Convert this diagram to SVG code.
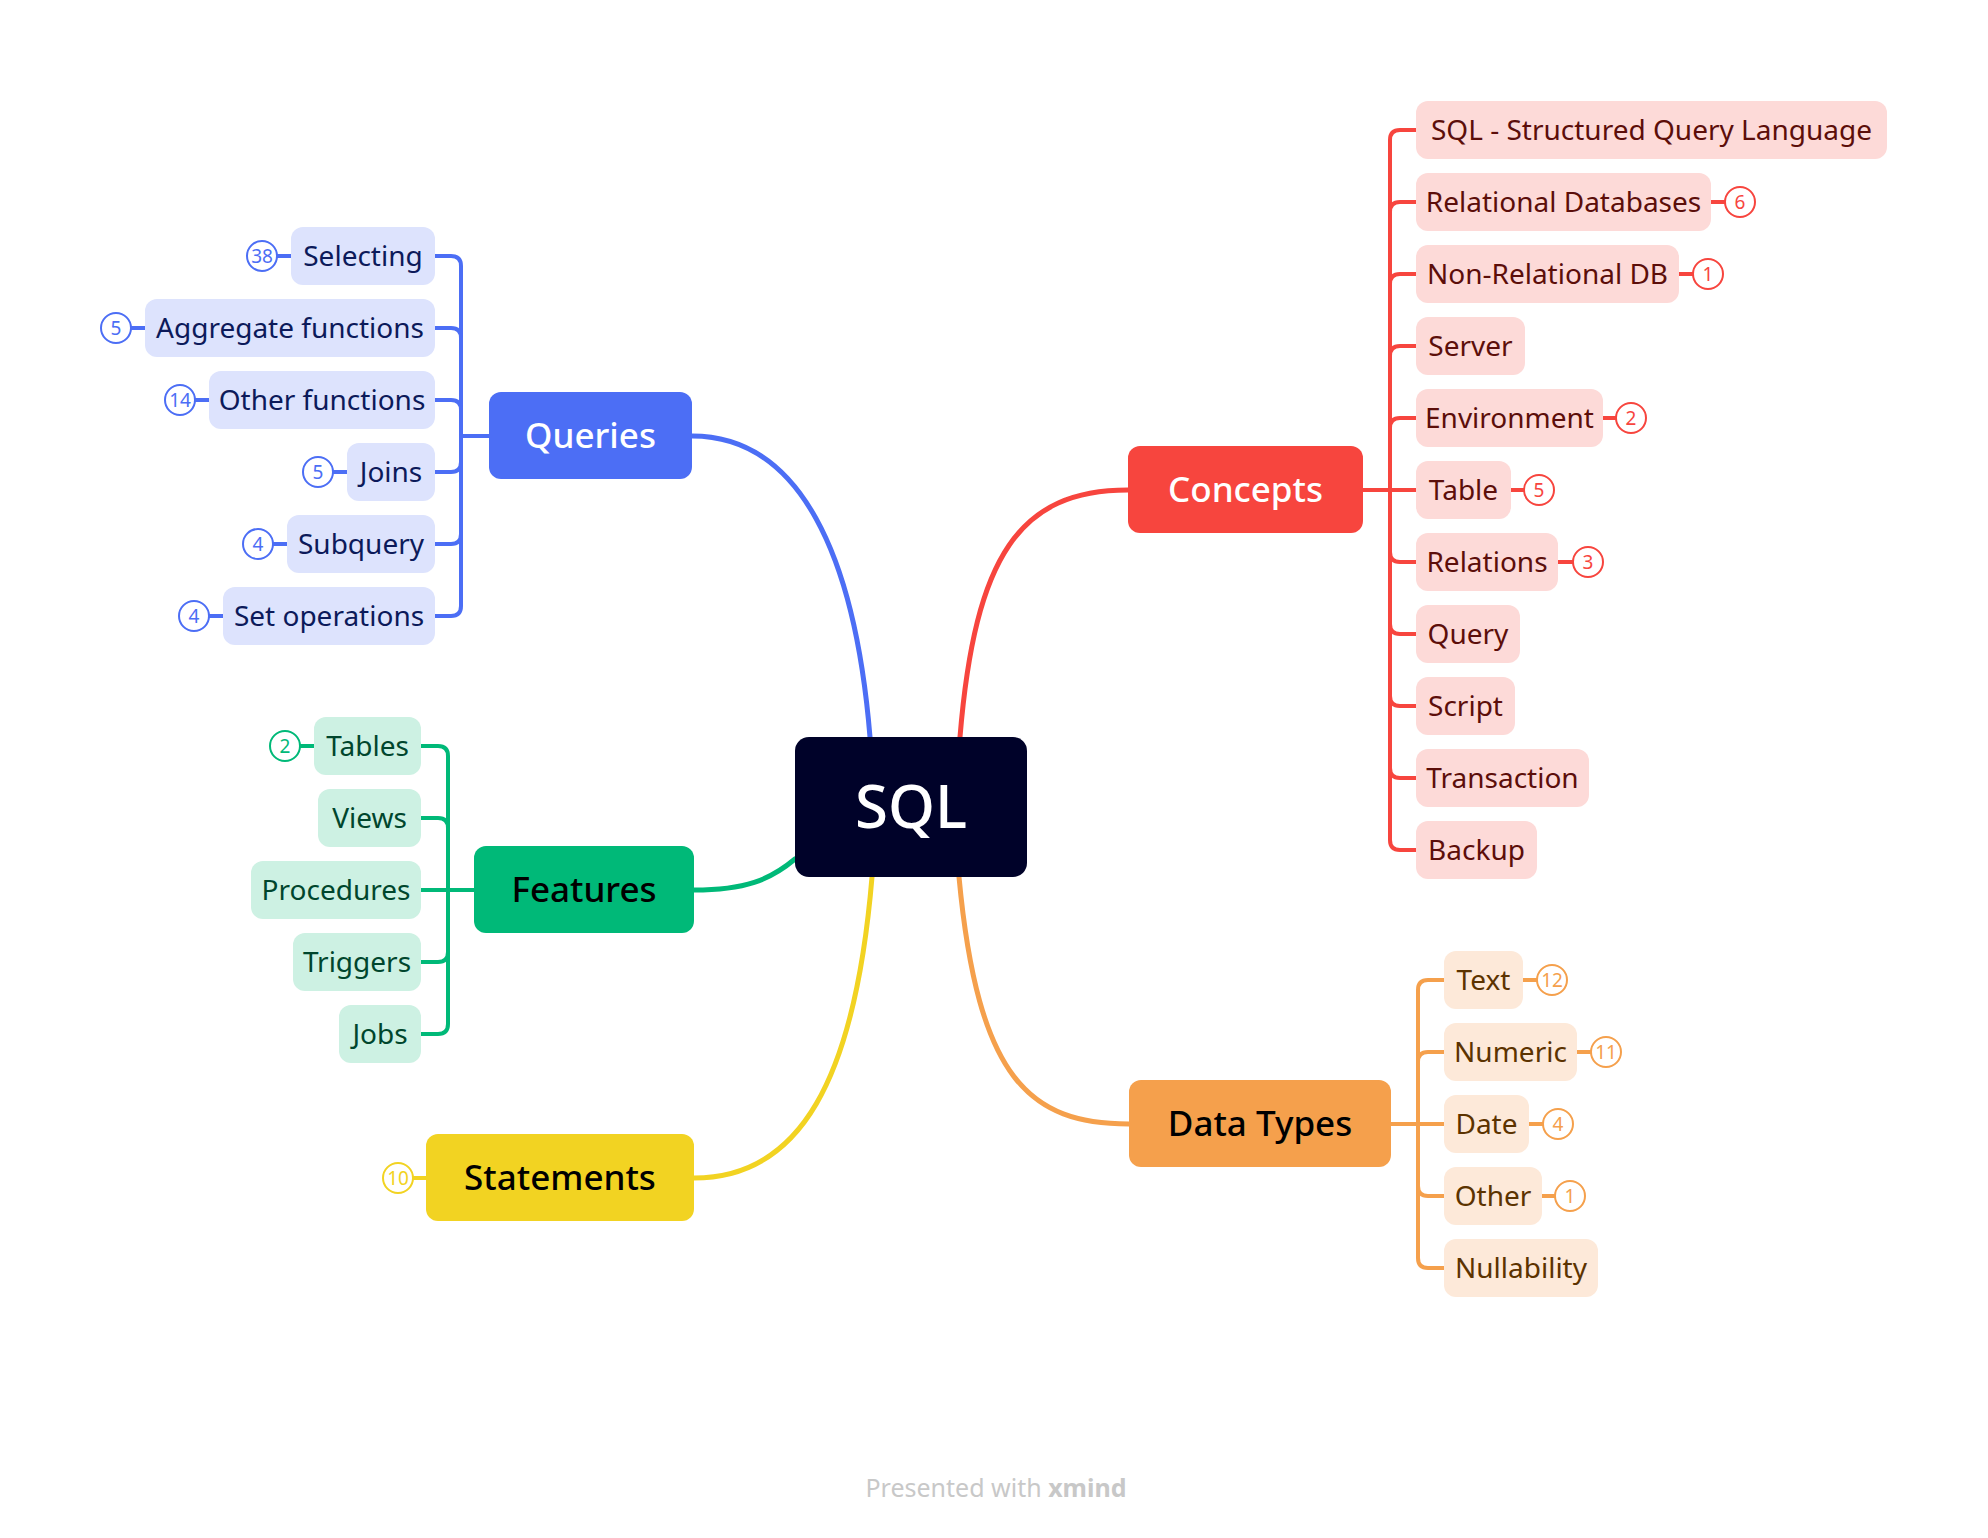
<svg xmlns="http://www.w3.org/2000/svg" width="1988" height="1538" viewBox="0 0 1988 1538">
<style>
text{font-family:"Noto Sans","Open Sans","Liberation Sans",sans-serif;text-anchor:middle}
.main{font-size:35px;font-weight:500}
.sub{font-size:28px}
.badge{font-size:19px}
.ln{fill:none;stroke-linecap:round;stroke-linejoin:round}
.tr{stroke-width:4}
.mc{stroke-width:5}
.bq{stroke:#4c6ef5}.bc{stroke:#f7453e}.bf{stroke:#00b978}.bs{stroke:#f2d322}.bd{stroke:#f5a04c}
.q rect.s{fill:#dde3fd}.q text{fill:#0c1a5a}
.c rect.s{fill:#fddad8}.c text{fill:#5c0e0a}
.f rect.s{fill:#cdf1e3}.f text{fill:#00462d}
.d rect.s{fill:#fde9d9}.d text{fill:#5c3300}
circle.b{fill:#fff;stroke-width:2}
</style>
<rect width="1988" height="1538" fill="#fff"/>
<g id="connectors">
<path class="ln mc bq" d="M870 737 C855 555 800 436 692 436"/>
<path class="ln mc bc" d="M960 737 C975 555 1020 490 1128 490"/>
<path class="ln mc bf" d="M795 859 C770 880 745 890 694 890"/>
<path class="ln mc bs" d="M872 877 C855 1080 800 1178 694 1178"/>
<path class="ln mc bd" d="M959 877 C978 1080 1030 1124 1129 1124"/>
<g class="ln tr bq">
<path d="M435 256 H451 Q461 256 461 266 V436"/>
<path d="M435 328 H451 Q461 328 461 338 V436"/>
<path d="M435 400 H451 Q461 400 461 410 V436"/>
<path d="M435 472 H451 Q461 472 461 462 V436"/>
<path d="M435 544 H451 Q461 544 461 534 V436"/>
<path d="M435 616 H451 Q461 616 461 606 V436"/>
<path d="M461 436 H489"/>
<path d="M277 256 H291 M131 328 H145 M195 400 H209 M333 472 H347 M273 544 H287 M209 616 H223"/>
</g>
<g class="ln tr bc">
<path d="M1416 130 H1400 Q1390 130 1390 140 V490"/>
<path d="M1416 202 H1400 Q1390 202 1390 212 V490"/>
<path d="M1416 274 H1400 Q1390 274 1390 284 V490"/>
<path d="M1416 346 H1400 Q1390 346 1390 356 V490"/>
<path d="M1416 418 H1400 Q1390 418 1390 428 V490"/>
<path d="M1416 490 H1363"/>
<path d="M1416 562 H1400 Q1390 562 1390 552 V490"/>
<path d="M1416 634 H1400 Q1390 634 1390 624 V490"/>
<path d="M1416 706 H1400 Q1390 706 1390 696 V490"/>
<path d="M1416 778 H1400 Q1390 778 1390 768 V490"/>
<path d="M1416 850 H1400 Q1390 850 1390 840 V490"/>
<path d="M1711 202 H1725 M1679 274 H1693 M1603 418 H1616 M1511 490 H1524 M1558 562 H1573"/>
</g>
<g class="ln tr bf">
<path d="M421 746 H438 Q448 746 448 756 V890"/>
<path d="M421 818 H438 Q448 818 448 828 V890"/>
<path d="M421 890 H474"/>
<path d="M421 962 H438 Q448 962 448 952 V890"/>
<path d="M421 1034 H438 Q448 1034 448 1024 V890"/>
<path d="M300 746 H314"/>
</g>
<g class="ln tr bs">
<path d="M413 1178 H426"/>
</g>
<g class="ln tr bd">
<path d="M1444 980 H1428 Q1418 980 1418 990 V1124"/>
<path d="M1444 1052 H1428 Q1418 1052 1418 1062 V1124"/>
<path d="M1444 1124 H1391"/>
<path d="M1444 1196 H1428 Q1418 1196 1418 1186 V1124"/>
<path d="M1444 1268 H1428 Q1418 1268 1418 1258 V1124"/>
<path d="M1523 980 H1537 M1577 1052 H1591 M1529 1124 H1543 M1542 1196 H1555"/>
</g>
</g>

<g id="sql"><rect x="795" y="737" width="232" height="140" rx="14" fill="#000229"/><text x="911" y="828" font-size="60" font-weight="500" fill="#fff">SQL</text></g>

<g id="queries"><rect x="489" y="392" width="203" height="87" rx="12" fill="#4c6ef5"/><text class="main" x="590.5" y="448" fill="#fff">Queries</text></g>
<g id="concepts"><rect x="1128" y="446" width="235" height="87" rx="12" fill="#f7453e"/><text class="main" x="1245.5" y="502" fill="#fff">Concepts</text></g>
<g id="features"><rect x="474" y="846" width="220" height="87" rx="12" fill="#00b978"/><text class="main" x="584" y="902" fill="#000">Features</text></g>
<g id="statements"><rect x="426" y="1134" width="268" height="87" rx="12" fill="#f2d322"/><text class="main" x="560" y="1190" fill="#000">Statements</text></g>
<g id="datatypes"><rect x="1129" y="1080" width="262" height="87" rx="12" fill="#f5a04c"/><text class="main" x="1260" y="1136" fill="#000">Data Types</text></g>

<g class="q">
<g id="q-selecting"><rect class="s" x="291" y="227" width="144" height="58" rx="12"/><text class="sub" x="363" y="266">Selecting</text><circle class="b bq" cx="262" cy="256" r="15"/><text class="badge" x="262" y="263" style="fill:#4c6ef5">38</text></g>
<g id="q-aggregate"><rect class="s" x="145" y="299" width="290" height="58" rx="12"/><text class="sub" x="290" y="338">Aggregate functions</text><circle class="b bq" cx="116" cy="328" r="15"/><text class="badge" x="116" y="335" style="fill:#4c6ef5">5</text></g>
<g id="q-other"><rect class="s" x="209" y="371" width="226" height="58" rx="12"/><text class="sub" x="322" y="410">Other functions</text><circle class="b bq" cx="180" cy="400" r="15"/><text class="badge" x="180" y="407" style="fill:#4c6ef5">14</text></g>
<g id="q-joins"><rect class="s" x="347" y="443" width="88" height="58" rx="12"/><text class="sub" x="391" y="482">Joins</text><circle class="b bq" cx="318" cy="472" r="15"/><text class="badge" x="318" y="479" style="fill:#4c6ef5">5</text></g>
<g id="q-subquery"><rect class="s" x="287" y="515" width="148" height="58" rx="12"/><text class="sub" x="361" y="554">Subquery</text><circle class="b bq" cx="258" cy="544" r="15"/><text class="badge" x="258" y="551" style="fill:#4c6ef5">4</text></g>
<g id="q-setops"><rect class="s" x="223" y="587" width="212" height="58" rx="12"/><text class="sub" x="329" y="626">Set operations</text><circle class="b bq" cx="194" cy="616" r="15"/><text class="badge" x="194" y="623" style="fill:#4c6ef5">4</text></g>
</g>

<g class="c">
<g id="c-sql"><rect class="s" x="1416" y="101" width="471" height="58" rx="12"/><text class="sub" x="1651.5" y="140">SQL - Structured Query Language</text></g>
<g id="c-reldb"><rect class="s" x="1416" y="173" width="295" height="58" rx="12"/><text class="sub" x="1563.5" y="212">Relational Databases</text><circle class="b bc" cx="1740" cy="202" r="15"/><text class="badge" x="1740" y="209" style="fill:#f7453e">6</text></g>
<g id="c-nonrel"><rect class="s" x="1416" y="245" width="263" height="58" rx="12"/><text class="sub" x="1547.5" y="284">Non-Relational DB</text><circle class="b bc" cx="1708" cy="274" r="15"/><text class="badge" x="1708" y="281" style="fill:#f7453e">1</text></g>
<g id="c-server"><rect class="s" x="1416" y="317" width="109" height="58" rx="12"/><text class="sub" x="1470.5" y="356">Server</text></g>
<g id="c-env"><rect class="s" x="1416" y="389" width="187" height="58" rx="12"/><text class="sub" x="1509.5" y="428">Environment</text><circle class="b bc" cx="1631" cy="418" r="15"/><text class="badge" x="1631" y="425" style="fill:#f7453e">2</text></g>
<g id="c-table"><rect class="s" x="1416" y="461" width="95" height="58" rx="12"/><text class="sub" x="1463.5" y="500">Table</text><circle class="b bc" cx="1539" cy="490" r="15"/><text class="badge" x="1539" y="497" style="fill:#f7453e">5</text></g>
<g id="c-relations"><rect class="s" x="1416" y="533" width="142" height="58" rx="12"/><text class="sub" x="1487" y="572">Relations</text><circle class="b bc" cx="1588" cy="562" r="15"/><text class="badge" x="1588" y="569" style="fill:#f7453e">3</text></g>
<g id="c-query"><rect class="s" x="1416" y="605" width="104" height="58" rx="12"/><text class="sub" x="1468" y="644">Query</text></g>
<g id="c-script"><rect class="s" x="1416" y="677" width="99" height="58" rx="12"/><text class="sub" x="1465.5" y="716">Script</text></g>
<g id="c-transaction"><rect class="s" x="1416" y="749" width="173" height="58" rx="12"/><text class="sub" x="1502.5" y="788">Transaction</text></g>
<g id="c-backup"><rect class="s" x="1416" y="821" width="121" height="58" rx="12"/><text class="sub" x="1476.5" y="860">Backup</text></g>
</g>

<g class="f">
<g id="f-tables"><rect class="s" x="314" y="717" width="107" height="58" rx="12"/><text class="sub" x="367.5" y="756">Tables</text><circle class="b bf" cx="285" cy="746" r="15"/><text class="badge" x="285" y="753" style="fill:#00b978">2</text></g>
<g id="f-views"><rect class="s" x="318" y="789" width="103" height="58" rx="12"/><text class="sub" x="369.5" y="828">Views</text></g>
<g id="f-procedures"><rect class="s" x="251" y="861" width="170" height="58" rx="12"/><text class="sub" x="336" y="900">Procedures</text></g>
<g id="f-triggers"><rect class="s" x="293" y="933" width="128" height="58" rx="12"/><text class="sub" x="357" y="972">Triggers</text></g>
<g id="f-jobs"><rect class="s" x="339" y="1005" width="82" height="58" rx="12"/><text class="sub" x="380" y="1044">Jobs</text></g>
</g>

<g id="s-badge"><circle class="b bs" cx="398" cy="1178" r="15"/><text class="badge" x="398" y="1185" style="fill:#f2d322">10</text></g>

<g class="d">
<g id="d-text"><rect class="s" x="1444" y="951" width="79" height="58" rx="12"/><text class="sub" x="1483.5" y="990">Text</text><circle class="b bd" cx="1552" cy="980" r="15"/><text class="badge" x="1552" y="987" style="fill:#f5a04c">12</text></g>
<g id="d-numeric"><rect class="s" x="1444" y="1023" width="133" height="58" rx="12"/><text class="sub" x="1510.5" y="1062">Numeric</text><circle class="b bd" cx="1606" cy="1052" r="15"/><text class="badge" x="1606" y="1059" style="fill:#f5a04c">11</text></g>
<g id="d-date"><rect class="s" x="1444" y="1095" width="85" height="58" rx="12"/><text class="sub" x="1486.5" y="1134">Date</text><circle class="b bd" cx="1558" cy="1124" r="15"/><text class="badge" x="1558" y="1131" style="fill:#f5a04c">4</text></g>
<g id="d-other"><rect class="s" x="1444" y="1167" width="98" height="58" rx="12"/><text class="sub" x="1493" y="1206">Other</text><circle class="b bd" cx="1570" cy="1196" r="15"/><text class="badge" x="1570" y="1203" style="fill:#f5a04c">1</text></g>
<g id="d-null"><rect class="s" x="1444" y="1239" width="154" height="58" rx="12"/><text class="sub" x="1521" y="1278">Nullability</text></g>
</g>

<text x="996" y="1497" font-size="25" fill="#c8c8c8">Presented with <tspan font-weight="bold">xmind</tspan></text>
</svg>
